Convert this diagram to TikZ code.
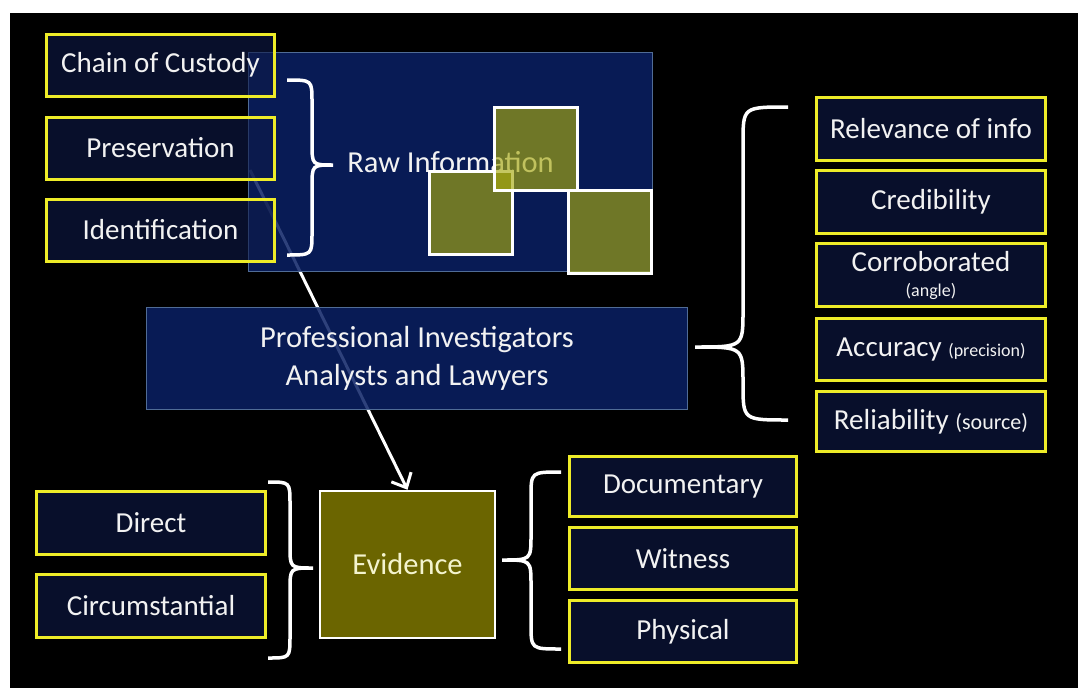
\documentclass[tikz,border=0pt]{standalone}
\usepackage{fontspec}
\setmainfont{Carlito}
\usepackage{tikz}
\usetikzlibrary{positioning}
\usetikzlibrary{arrows.meta}

\definecolor{boxyellow}{RGB}{238,236,40}
\definecolor{boxnavy}{RGB}{14,26,72}
\definecolor{panelblue}{RGB}{10,32,100}
\definecolor{panelrim}{RGB}{80,108,150}
\definecolor{olivebox}{RGB}{167,169,15}
\definecolor{evidfill}{RGB}{107,101,0}
\definecolor{textwhite}{RGB}{242,242,242}

\newcommand{\itemfont}{\fontsize{29}{34}\selectfont}
\newcommand{\bigfont}{\fontsize{30.5}{38}\selectfont}
% #1 end x, #2 stem x, #3 tip x, #4 top y, #5 tip y, #6 bottom y, #7 radius
\newcommand{\curlybrace}[7]{%
	\draw[curl] (#1,#4) .. controls (#2,#4) .. (#2,{#4+#7}) -- (#2,{#5-#7})
		.. controls (#2,#5) .. (#3,#5) .. controls (#2,#5) .. (#2,{#5+#7})
		-- (#2,{#6-#7}) .. controls (#2,#6) .. (#1,#6);}

\begin{document}
\begin{tikzpicture}[x=1pt, y=-1pt,
		item/.style={draw=boxyellow, line width=3pt, fill=boxnavy, fill opacity=0.6, text opacity=1,
			text=textwhite, font=\itemfont, minimum width=229pt, minimum height=62pt, inner sep=0pt},
		panel/.style={draw=panelrim, line width=1.5pt, fill=panelblue, fill opacity=0.85, text opacity=1,
			text=textwhite, font=\bigfont, inner sep=0pt},
		piece/.style={draw=white, line width=3pt, fill=olivebox, fill opacity=0.65, minimum size=83pt},
		curl/.style={white, line width=3.5pt}
	]
	\fill[white] (0,0) rectangle (1078,688);
	\fill[black] (10,13) rectangle (1078,688);

	\node[draw=white, line width=2.5pt, fill=evidfill, text=textwhite!85!yellow, font=\bigfont,
		minimum width=175pt, minimum height=147pt] (evid) at (407.5,564.5) {Evidence};

	\coordinate (tail) at (250,170);
	\draw[white, line width=3pt, -{Straight Barb[length=12pt, width=22pt]}] (tail) -- (evid.north);

	\node[panel, minimum width=404pt, minimum height=219pt] (raw) at (450.5,162) {Raw Information};
	\node[panel, minimum width=541pt, minimum height=102pt, align=center] (prof) at (417,358.5)
		{Professional Investigators\\Analysts and Lawyers};

	% the three pieces of raw data
	\node[piece] (sqa) at (471,213) {};
	\node[piece] (sqb) at (536,149) {};
	\node[piece] (sqc) at (609.5,231.5) {};

	% handling of raw information
	\node[item, minimum width=228pt] (chain) at (160.5,65) {Chain of Custody};
	\node[item, minimum width=228pt, below=18pt of chain] (pres) {Preservation};
	\node[item, minimum width=228pt, below=17pt of pres] (ident) {Identification};

	% tests applied by the professionals
	\node[item, minimum height=63pt] (rel) at (931,129) {Relevance of info};
	\node[item, minimum height=63pt, below=7pt of rel] (cred) {Credibility};
	\node[item, minimum height=63pt, below=7pt of cred, align=center] (corr)
		{Corroborated\\[-9pt]{\fontsize{18}{20}\selectfont(angle)}};
	\node[item, minimum height=62pt, below=9pt of corr] (acc)
		{Accuracy {\fontsize{18}{20}\selectfont(precision)}};
	\node[item, minimum height=60pt, below=8pt of acc] (relia)
		{Reliability {\fontsize{22}{24}\selectfont(source)}};

	% kinds of evidence
	\node[item, minimum height=63pt] (direct) at (151,523) {Direct};
	\node[item, minimum height=63pt, below=17pt of direct] (circ) {Circumstantial};

	\node[item, minimum width=227pt, minimum height=60pt] (doc) at (683,486.5) {Documentary};
	\node[item, minimum width=227pt, minimum height=62pt, below=8pt of doc] (wit) {Witness};
	\node[item, minimum width=227pt, minimum height=62pt, below=8pt of wit] (phys) {Physical};

	\curlybrace{287}{312}{333}{80}{165}{255}{22}
	\curlybrace{788}{743}{695}{107}{347}{420}{36}
	\curlybrace{268}{290}{313}{482}{568}{658}{22}
	\curlybrace{561}{531}{502}{472}{560}{649}{25}
\end{tikzpicture}
\end{document}
